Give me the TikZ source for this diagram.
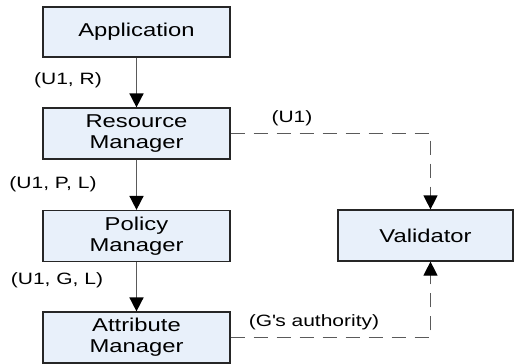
\documentclass[tikz,border=0pt]{standalone}
\usepackage{fontspec}
\setmainfont{Liberation Sans}[FakeStretch=1.28]
\usetikzlibrary{arrows.meta}
\definecolor{boxfill}{RGB}{232,240,250}
\definecolor{linegray}{RGB}{90,90,90}
\begin{document}
\begin{tikzpicture}[x=0.5pt,y=-0.5pt,
    box/.style = {shape=rectangle, draw=black!85, line width=0.6pt,
      fill=boxfill, align=center, inner sep=0pt,
      minimum width=93.5pt, minimum height=25.5pt,
      font=\fontsize{9.3}{10.6}\selectfont},
    flow/.style = {draw=linegray, line width=0.8pt,
      -{Triangle[length=7pt,width=7pt,color=black]}},
    link/.style = {draw=linegray, line width=0.6pt,
      dash pattern=on 7pt off 4.5pt,
      -{Triangle[length=7pt,width=7pt,color=black]}},
    tag/.style = {inner sep=0pt, font=\fontsize{8.2}{10}\selectfont}]
    \useasboundingbox (0,0) rectangle (514,364);
    % main chain
    \node[box, minimum height=25pt] (app) at (136.5,32) {Application};
    \node[box] (rm) at (136.5,133.5) {Resource\\Manager};
    \node[box] (pm) at (136.5,236) {Policy\\Manager};
    \node[box] (am) at (136.5,337.5) {Attribute\\Manager};
    \node[box, minimum width=87.5pt] (val) at (425.5,235.5) {Validator};
    \draw[flow] (app) -- (rm);
    \draw[flow] (rm) -- (pm);
    \draw[flow] (pm) -- (am);
    % checks
    \draw[link] (rm.east) -| ([xshift=2.5pt]val.north);
    \draw[link] (am.east) -| ([xshift=2.5pt]val.south);
    % labels
    \node[tag] (lapp) at (68,80) {(U1, R)};
    \node[tag] (lrm) at (53,184) {(U1, P, L)};
    \node[tag] (lpm) at (57,280) {(U1, G, L)};
    \node[tag] (lval) at (292,118) {(U1)};
    \node[tag] (lam) at (314,322) {(G\textquotesingle s authority)};
\end{tikzpicture}
\end{document}
